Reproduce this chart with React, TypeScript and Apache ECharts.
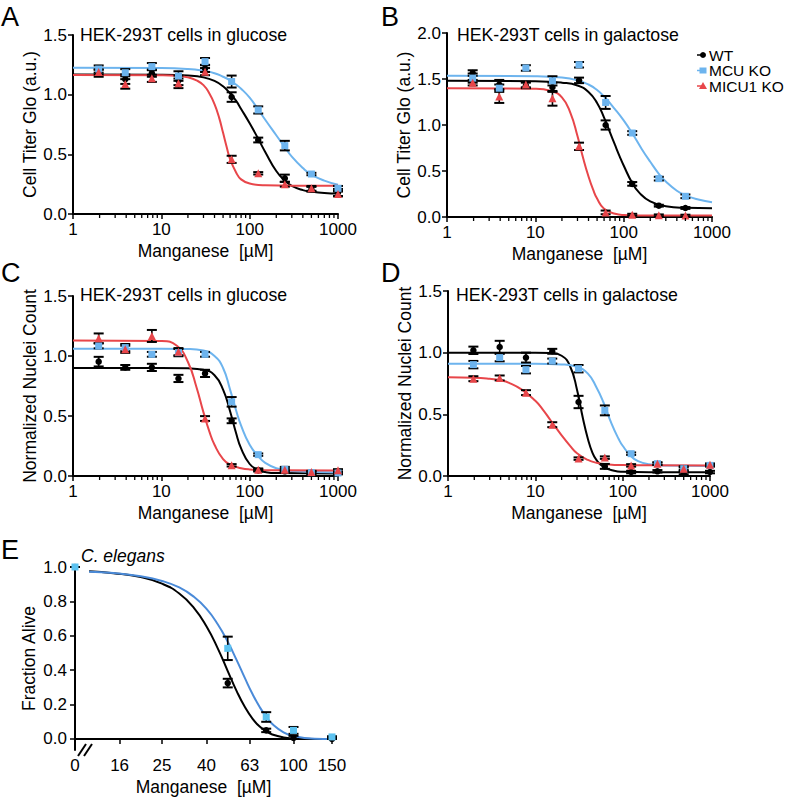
import { useEffect, useRef } from "react";
import * as echarts from "echarts";

const FONT = '"Liberation Sans", Arial, Helvetica, sans-serif';

// ---------- shared ----------
const CONC = [1.953, 3.906, 7.8125, 15.625, 31.25, 62.5, 125, 250, 500, 1000];
const CONC_B = [1.953, 3.906, 7.8125, 15.625, 31.25, 62.5, 125, 250, 500];
const LOG_TICKS_MINOR = [2, 3, 4, 5, 6, 7, 8, 9, 20, 30, 40, 50, 60, 70, 80, 90, 200, 300, 400, 500, 600, 700, 800, 900];

// ---------- Panel A: Cell Titer Glo, glucose ----------
const A_WT = [1.18, 1.13, 1.18, 1.12, 1.22, 0.98, 0.62, 0.3, 0.207, 0.18];
const A_WT_ERR = [0.03, 0.04, 0.03, 0.04, 0.03, 0.04, 0.02, 0.03, 0.02, 0.03];
const A_MCU = [1.215, 1.184, 1.235, 1.156, 1.277, 1.11, 0.872, 0.573, 0.335, 0.215];
const A_MCU_ERR = [0.03, 0.03, 0.03, 0.04, 0.03, 0.05, 0.03, 0.04, 0.01, 0.02];
const A_MICU1 = [1.19, 1.09, 1.137, 1.095, 1.193, 0.458, 0.341, 0.249, 0.215, 0.168];
const A_MICU1_ERR = [0.02, 0.04, 0.03, 0.04, 0.03, 0.03, 0.01, 0.02, 0.02, 0.02];
const A_WT_FIT: [number, number][] = [[1, 1.168], [10, 1.167], [20, 1.16], [30, 1.145], [40, 1.115], [50, 1.07], [60, 1.01], [70, 0.95], [80, 0.88], [100, 0.76], [125, 0.63], [150, 0.52], [200, 0.36], [250, 0.28], [300, 0.235], [400, 0.2], [500, 0.188], [700, 0.177], [1000, 0.172]];
const A_MCU_FIT: [number, number][] = [[1, 1.225], [10, 1.223], [20, 1.215], [30, 1.2], [40, 1.18], [50, 1.15], [60, 1.12], [70, 1.085], [80, 1.05], [100, 0.975], [125, 0.875], [150, 0.79], [200, 0.66], [250, 0.56], [300, 0.48], [400, 0.385], [500, 0.33], [700, 0.28], [1000, 0.245]];
const A_MICU1_FIT: [number, number][] = [[1, 1.165], [10, 1.163], [15, 1.158], [20, 1.145], [25, 1.12], [30, 1.08], [35, 1.01], [40, 0.92], [45, 0.81], [50, 0.68], [55, 0.56], [60, 0.46], [70, 0.35], [80, 0.29], [100, 0.255], [150, 0.24], [300, 0.237], [1000, 0.237]];

// ---------- Panel B: Cell Titer Glo, galactose ----------
const B_WT = [1.565, 1.44, 1.43, 1.41, 1.485, 1.0, 0.36, 0.123, 0.098];
const B_WT_ERR = [0.03, 0.05, 0.03, 0.05, 0.03, 0.05, 0.02, 0.01, 0.01];
const B_MCU = [1.51, 1.4, 1.62, 1.48, 1.655, 1.245, 0.913, 0.417, 0.225];
const B_MCU_ERR = [0.05, 0.04, 0.03, 0.05, 0.03, 0.07, 0.02, 0.02, 0.02];
const B_MICU1 = [1.46, 1.31, 1.44, 1.29, 0.768, 0.05, 0.025, 0.018, 0.015];
const B_MICU1_ERR = [0.03, 0.07, 0.03, 0.08, 0.04, 0.02, 0.01, 0.01, 0.01];
const B_WT_FIT: [number, number][] = [[1, 1.48], [10, 1.476], [20, 1.46], [30, 1.43], [40, 1.36], [50, 1.24], [60, 1.08], [70, 0.92], [80, 0.78], [90, 0.66], [100, 0.56], [125, 0.37], [150, 0.265], [200, 0.17], [300, 0.118], [500, 0.1], [1000, 0.095]];
const B_MCU_FIT: [number, number][] = [[1, 1.535], [10, 1.53], [20, 1.515], [30, 1.485], [40, 1.44], [50, 1.38], [60, 1.31], [80, 1.17], [100, 1.05], [125, 0.91], [160, 0.74], [200, 0.6], [250, 0.47], [300, 0.385], [400, 0.285], [500, 0.235], [700, 0.19], [1000, 0.16]];
const B_MICU1_FIT: [number, number][] = [[1, 1.4], [10, 1.395], [15, 1.37], [20, 1.3], [25, 1.13], [30, 0.88], [35, 0.63], [40, 0.44], [45, 0.3], [50, 0.2], [60, 0.09], [80, 0.035], [100, 0.022], [200, 0.016], [1000, 0.015]];

// ---------- Panel C: Nuclei count, glucose ----------
const C_WT = [0.953, 0.905, 0.905, 0.813, 0.855, 0.46, 0.047, 0.039, 0.028, 0.025];
const C_WT_ERR = [0.04, 0.02, 0.03, 0.03, 0.03, 0.02, 0.01, 0.01, 0.01, 0.01];
const C_MCU = [1.084, 1.07, 1.014, 1.028, 1.014, 0.618, 0.178, 0.056, 0.028, 0.025];
const C_MCU_ERR = [0.02, 0.03, 0.02, 0.03, 0.02, 0.04, 0.01, 0.02, 0.01, 0.01];
const C_MICU1 = [1.148, 1.056, 1.167, 1.036, 0.479, 0.089, 0.053, 0.053, 0.033, 0.047];
const C_MICU1_ERR = [0.04, 0.03, 0.05, 0.03, 0.02, 0.01, 0.01, 0.01, 0.01, 0.01];
const C_WT_FIT: [number, number][] = [[1, 0.9], [10, 0.9], [20, 0.897], [30, 0.885], [40, 0.84], [50, 0.72], [60, 0.54], [70, 0.36], [80, 0.23], [100, 0.1], [125, 0.05], [150, 0.033], [200, 0.024], [1000, 0.02]];
const C_MCU_FIT: [number, number][] = [[1, 1.06], [10, 1.06], [20, 1.058], [30, 1.045], [40, 1.0], [50, 0.9], [60, 0.72], [70, 0.55], [80, 0.42], [100, 0.26], [125, 0.165], [150, 0.11], [200, 0.065], [300, 0.042], [1000, 0.03]];
const C_MICU1_FIT: [number, number][] = [[1, 1.13], [10, 1.125], [15, 1.085], [20, 0.95], [25, 0.74], [30, 0.53], [35, 0.37], [40, 0.26], [50, 0.14], [60, 0.095], [80, 0.065], [100, 0.055], [200, 0.048], [1000, 0.045]];

// ---------- Panel D: Nuclei count, galactose ----------
const D_WT = [1.019, 1.046, 0.96, 1.011, 0.6, 0.078, 0.032, 0.038, 0.024, 0.032];
const D_WT_ERR = [0.03, 0.05, 0.04, 0.02, 0.05, 0.02, 0.01, 0.01, 0.01, 0.01];
const D_MCU = [0.903, 0.96, 0.862, 0.932, 0.87, 0.532, 0.181, 0.1, 0.059, 0.086];
const D_MCU_ERR = [0.03, 0.03, 0.03, 0.02, 0.03, 0.04, 0.01, 0.01, 0.02, 0.01];
const D_MICU1 = [0.789, 0.795, 0.676, 0.416, 0.141, 0.149, 0.086, 0.1, 0.059, 0.092];
const D_MICU1_ERR = [0.02, 0.02, 0.02, 0.02, 0.01, 0.01, 0.01, 0.01, 0.01, 0.01];
const D_WT_FIT: [number, number][] = [[1, 1.0], [10, 1.0], [15, 0.997], [20, 0.975], [25, 0.89], [30, 0.7], [35, 0.47], [40, 0.3], [45, 0.19], [50, 0.13], [60, 0.075], [80, 0.042], [100, 0.034], [200, 0.03], [1000, 0.03]];
const D_MCU_FIT: [number, number][] = [[1, 0.91], [10, 0.91], [20, 0.905], [30, 0.885], [40, 0.83], [50, 0.72], [60, 0.6], [75, 0.42], [90, 0.3], [100, 0.245], [125, 0.16], [150, 0.12], [200, 0.095], [300, 0.085], [1000, 0.082]];
const D_MICU1_FIT: [number, number][] = [[1, 0.8], [2, 0.797], [3, 0.788], [4, 0.775], [5, 0.755], [7, 0.7], [10, 0.61], [12, 0.545], [15, 0.45], [20, 0.33], [25, 0.245], [30, 0.185], [40, 0.13], [50, 0.108], [70, 0.094], [100, 0.089], [200, 0.087], [1000, 0.086]];

// ---------- Panel E: C. elegans ----------
const E_CONC = [0, 50, 75, 100, 150];
const E_TICKS = [0, 16, 25, 40, 63, 100, 150];
const E_WT = [1.0, 0.325, 0.05, 0.006, 0.0];
const E_WT_ERR = [0, 0.025, 0.01, 0.012, 0];
const E_MCU = [1.0, 0.527, 0.128, 0.05, 0.012];
const E_MCU_ERR = [0, 0.068, 0.028, 0.02, 0.004];
const E_WT_FIT: [number, number][] = [[11.6, 0.975], [15, 0.964], [20, 0.941], [25, 0.903], [30, 0.846], [35, 0.763], [40, 0.654], [45, 0.527], [50, 0.395], [55, 0.277], [60, 0.184], [65, 0.117], [70, 0.072], [75, 0.044], [80, 0.026], [90, 0.009], [100, 0.003], [125, 0.0002], [150, 0]];
const E_MCU_FIT: [number, number][] = [[11.6, 0.973], [15, 0.965], [20, 0.946], [25, 0.919], [30, 0.881], [35, 0.827], [40, 0.756], [45, 0.667], [50, 0.565], [55, 0.457], [60, 0.352], [65, 0.26], [70, 0.186], [75, 0.129], [80, 0.087], [90, 0.039], [100, 0.017], [125, 0.002], [150, 0.0002]];
const E_YTICKS = [0, 0.2, 0.4, 0.6, 0.8, 1.0];

// ---------- styles ----------
const COL_WT = "#000000";
const COL_MCU = "#6db4ee";
const COL_MICU1 = "#e8464a";
const COL_E_LINE = "#4a8ad8";
const COL_E_PT = "#5cc2f0";

const GRIDS = [
  { left: 73, top: 35, width: 265, height: 179 },
  { left: 447, top: 33, width: 265, height: 184 },
  { left: 73, top: 296, width: 265, height: 180 },
  { left: 448, top: 291, width: 262, height: 185 },
  { left: 75, top: 567, width: 257, height: 183 },
];

const E_XMIN = 1.0;
const ex = (c: number) => (c === 0 ? E_XMIN : Math.log10(c));

function errData(xs: number[], ys: number[], es: number[]) {
  return xs.map((x, i) => [x, Math.max(ys[i] - es[i], 0), ys[i] + es[i]]);
}

function errSeries(idx: number, data: number[][]) {
  return {
    type: "custom",
    xAxisIndex: idx,
    yAxisIndex: idx,
    silent: true,
    z: 4,
    encode: { x: 0, y: [1, 2] },
    data,
    renderItem: (_p: any, api: any) => {
      const x = api.value(0);
      const a = api.coord([x, api.value(1)]);
      const b = api.coord([x, api.value(2)]);
      const w = 5;
      const st = { stroke: "#000", lineWidth: 1.6 };
      return {
        type: "group",
        children: [
          { type: "line", shape: { x1: a[0], y1: a[1], x2: b[0], y2: b[1] }, style: st },
          { type: "line", shape: { x1: a[0] - w, y1: a[1], x2: a[0] + w, y2: a[1] }, style: { stroke: "#000", lineWidth: 2 } },
          { type: "line", shape: { x1: b[0] - w, y1: b[1], x2: b[0] + w, y2: b[1] }, style: { stroke: "#000", lineWidth: 2 } },
        ],
      };
    },
  };
}

function fitSeries(idx: number, name: string, data: [number, number][], color: string) {
  return {
    type: "line",
    name,
    xAxisIndex: idx,
    yAxisIndex: idx,
    data,
    smooth: 0.5,
    symbol: "none",
    showSymbol: false,
    silent: true,
    z: 2,
    lineStyle: { color, width: 2 },
  };
}

function ptSeries(idx: number, name: string, xs: number[], ys: number[], color: string, symbol: string, size: number) {
  return {
    type: "scatter",
    name,
    xAxisIndex: idx,
    yAxisIndex: idx,
    data: xs.map((x, i) => [x, ys[i]]),
    symbol,
    symbolSize: size,
    silent: true,
    z: 5,
    itemStyle: { color, opacity: 1 },
  };
}

function minorTicks(idx: number) {
  return {
    type: "custom",
    xAxisIndex: idx,
    yAxisIndex: idx,
    silent: true,
    z: 6,
    encode: { x: 0, y: 1 },
    data: LOG_TICKS_MINOR.map((v) => [v, 0]),
    renderItem: (_p: any, api: any) => {
      const c = api.coord([api.value(0), api.value(1)]);
      return { type: "line", shape: { x1: c[0], y1: c[1] + 1, x2: c[0], y2: c[1] + 4 }, style: { stroke: "#000", lineWidth: 1.3 } };
    },
  };
}

const axisText = { color: "#000", fontSize: 17, fontFamily: FONT };

function logX(idx: number) {
  return {
    type: "log",
    gridIndex: idx,
    logBase: 10,
    min: 1,
    max: 1000,
    name: "Manganese  [µM]",
    nameLocation: "middle",
    nameGap: 28,
    nameTextStyle: { ...axisText, fontSize: 17.5 },
    axisLine: { show: true, lineStyle: { color: "#000", width: 2 } },
    axisTick: { show: true, length: 5, lineStyle: { color: "#000", width: 1.5 } },
    axisLabel: { ...axisText, margin: 7, formatter: (v: number) => String(Math.round(v)) },
    splitLine: { show: false },
    minorTick: { show: false },
  };
}

function valY(idx: number, max: number, name: string, gap: number) {
  return {
    type: "value",
    gridIndex: idx,
    min: 0,
    max,
    interval: 0.5,
    name,
    nameLocation: "middle",
    nameGap: gap,
    nameTextStyle: { ...axisText, fontSize: 17.5 },
    axisLine: { show: true, lineStyle: { color: "#000", width: 2 } },
    axisTick: { show: true, length: 5, lineStyle: { color: "#000", width: 1.5 } },
    axisLabel: { ...axisText, margin: 6, formatter: (v: number) => v.toFixed(1) },
    splitLine: { show: false },
  };
}

function panelSeries(
  idx: number,
  xs: number[],
  wt: number[], wtE: number[], mcu: number[], mcuE: number[], micu: number[], micuE: number[],
  wtFit: [number, number][], mcuFit: [number, number][], micuFit: [number, number][]
) {
  return [
    fitSeries(idx, "WT fit", wtFit, COL_WT),
    fitSeries(idx, "MCU KO fit", mcuFit, COL_MCU),
    fitSeries(idx, "MICU1 KO fit", micuFit, COL_MICU1),
    errSeries(idx, errData(xs, wt, wtE)),
    errSeries(idx, errData(xs, mcu, mcuE)),
    errSeries(idx, errData(xs, micu, micuE)),
    ptSeries(idx, "WT", xs, wt, COL_WT, "circle", 6.5),
    ptSeries(idx, "MCU KO", xs, mcu, COL_MCU, "rect", 7),
    ptSeries(idx, "MICU1 KO", xs, micu, COL_MICU1, "triangle", 8),
    minorTicks(idx),
  ];
}

function txt(x: number, y: number, text: string, size: number, extra: any = {}) {
  return {
    type: "text",
    x,
    y,
    silent: true,
    z: 10,
    style: {
      text,
      fill: "#000",
      font: `${extra.italic ? "italic " : ""}${size}px ${FONT}`,
      align: "left",
      verticalAlign: "middle",
      textAlign: "left",
      textVerticalAlign: "middle",
    },
  };
}

function buildOption() {
  const eXs = E_CONC.map(ex);
  const eTickVals = E_TICKS.map(ex);
  const series: any[] = [
    ...panelSeries(0, CONC, A_WT, A_WT_ERR, A_MCU, A_MCU_ERR, A_MICU1, A_MICU1_ERR, A_WT_FIT, A_MCU_FIT, A_MICU1_FIT),
    ...panelSeries(1, CONC_B, B_WT, B_WT_ERR, B_MCU, B_MCU_ERR, B_MICU1, B_MICU1_ERR, B_WT_FIT, B_MCU_FIT, B_MICU1_FIT),
    ...panelSeries(2, CONC, C_WT, C_WT_ERR, C_MCU, C_MCU_ERR, C_MICU1, C_MICU1_ERR, C_WT_FIT, C_MCU_FIT, C_MICU1_FIT),
    ...panelSeries(3, CONC, D_WT, D_WT_ERR, D_MCU, D_MCU_ERR, D_MICU1, D_MICU1_ERR, D_WT_FIT, D_MCU_FIT, D_MICU1_FIT),
    fitSeries(4, "WT fit", E_WT_FIT.map((p) => [ex(p[0]), p[1]] as [number, number]), COL_WT),
    fitSeries(4, "MCU KO fit", E_MCU_FIT.map((p) => [ex(p[0]), p[1]] as [number, number]), COL_E_LINE),
    errSeries(4, errData(eXs, E_WT, E_WT_ERR)),
    errSeries(4, errData(eXs, E_MCU, E_MCU_ERR)),
    ptSeries(4, "WT", eXs, E_WT, COL_WT, "circle", 6.5),
    ptSeries(4, "MCU KO", eXs, E_MCU, COL_E_PT, "rect", 7),
  ];

  const legendItems = [
    { name: "WT", color: COL_WT, y: 55 },
    { name: "MCU KO", color: COL_MCU, y: 70.5 },
    { name: "MICU1 KO", color: COL_MICU1, y: 86 },
  ];
  const legendGraphics: any[] = [];
  legendItems.forEach((it, i) => {
    legendGraphics.push({ type: "line", silent: true, shape: { x1: 697, y1: it.y, x2: 703, y2: it.y }, style: { stroke: it.color, lineWidth: 1.5 } });
    if (i === 0) legendGraphics.push({ type: "circle", silent: true, shape: { cx: 703, cy: it.y, r: 3 }, style: { fill: it.color } });
    if (i === 1) legendGraphics.push({ type: "rect", silent: true, shape: { x: 699.5, y: it.y - 3, width: 7, height: 6 }, style: { fill: it.color } });
    if (i === 2) legendGraphics.push({ type: "polygon", silent: true, shape: { points: [[703, it.y - 4], [707, it.y + 3], [699, it.y + 3]] }, style: { fill: it.color } });
    legendGraphics.push(txt(709, it.y, it.name, 15.5));
  });

  return {
    animation: false,
    backgroundColor: "#ffffff",
    grid: GRIDS.map((g) => ({ ...g, containLabel: false })),
    xAxis: [
      logX(0),
      logX(1),
      logX(2),
      logX(3),
      {
        type: "value",
        gridIndex: 4,
        min: E_XMIN,
        max: Math.log10(150),
        name: "Manganese  [µM]",
        nameLocation: "middle",
        nameGap: 28,
        nameTextStyle: { ...axisText, fontSize: 17.5 },
        axisLine: { show: true, lineStyle: { color: "#000", width: 2 } },
        axisTick: { show: true, length: 5, customValues: eTickVals.slice(1), lineStyle: { color: "#000", width: 1.5 } },
        axisLabel: {
          ...axisText,
          margin: 7,
          customValues: eTickVals,
          showMinLabel: true,
          showMaxLabel: true,
          formatter: (v: number) => {
            let best = 0;
            eTickVals.forEach((t, i) => { if (Math.abs(t - v) < Math.abs(eTickVals[best] - v)) best = i; });
            return String(E_TICKS[best]);
          },
        },
        splitLine: { show: false },
      },
    ],
    yAxis: [
      valY(0, 1.5, "Cell Titer Glo (a.u.)", 31),
      valY(1, 2.0, "Cell Titer Glo (a.u.)", 31),
      valY(2, 1.5, "Normalized Nuclei Count", 31),
      valY(3, 1.5, "Normalized Nuclei Count", 30),
      {
        type: "value",
        gridIndex: 4,
        min: -0.064,
        max: 1.0,
        name: "Fraction Alive",
        nameLocation: "middle",
        nameGap: 37,
        nameTextStyle: { ...axisText, fontSize: 17.5 },
        axisLine: { show: true, lineStyle: { color: "#000", width: 2 } },
        axisTick: { show: true, length: 5, customValues: E_YTICKS, lineStyle: { color: "#000", width: 1.5 } },
        axisLabel: { ...axisText, margin: 8, customValues: E_YTICKS, formatter: (v: number) => v.toFixed(1) },
        splitLine: { show: false },
      },
    ],
    series,
    graphic: [
      txt(1, 17, "A", 27),
      txt(381, 17, "B", 27),
      txt(1, 273, "C", 27),
      txt(381, 273, "D", 27),
      txt(1, 550, "E", 27),
      txt(80, 35, "HEK-293T cells in glucose", 17.7),
      txt(457, 35, "HEK-293T cells in galactose", 17.7),
      txt(80, 295, "HEK-293T cells in glucose", 17.7),
      txt(456, 295, "HEK-293T cells in galactose", 17.7),
      txt(81, 556, "C. elegans", 17.5, { italic: true }),
      // axis break marks on panel E
      { type: "polygon", silent: true, z: 20, shape: { points: [[79, 756], [87, 744], [92, 744], [84, 756]] }, style: { fill: "#fff" } },
      { type: "line", silent: true, z: 21, shape: { x1: 78, y1: 756, x2: 86, y2: 744 }, style: { stroke: "#000", lineWidth: 2 } },
      { type: "line", silent: true, z: 21, shape: { x1: 84, y1: 756, x2: 92, y2: 744 }, style: { stroke: "#000", lineWidth: 2 } },
      ...legendGraphics,
    ],
  };
}

export default function App() {
  const ref = useRef<HTMLDivElement>(null);
  useEffect(() => {
    if (!ref.current) return;
    const chart = echarts.init(ref.current, undefined, { renderer: "svg" });
    chart.setOption(buildOption() as any);
    return () => chart.dispose();
  }, []);
  return (
    <div
      ref={ref}
      style={{ position: "absolute", left: 0, top: 0, width: 800, height: 800, background: "#fff" }}
    />
  );
}
